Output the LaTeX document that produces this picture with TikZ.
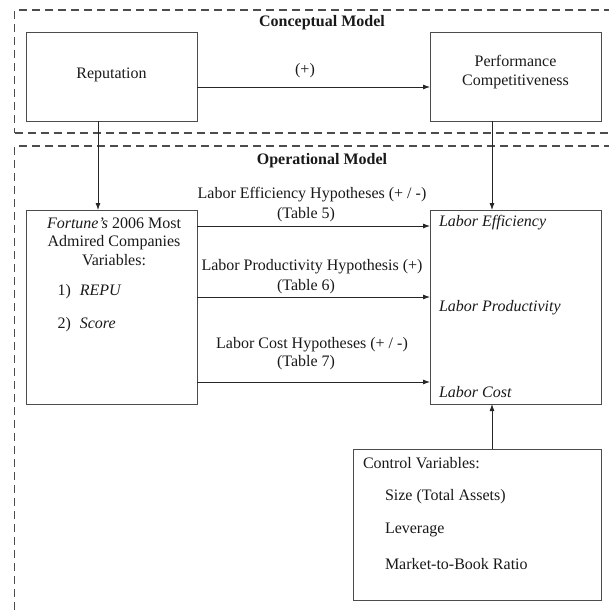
\documentclass[tikz,border=0pt]{standalone}
\usepackage{fontspec}
\setmainfont{Liberation Serif}
\usetikzlibrary{arrows.meta}
\begin{document}
\begin{tikzpicture}[x=1pt,y=-1pt,
  font=\fontsize{16}{18.5}\selectfont,
  every node/.style={inner sep=0pt, outer sep=0pt},
  box/.style={draw=black!70, line width=0.9pt, anchor=north west},
  frame/.style={draw=black!70, line width=1.2pt, dash pattern=on 8pt off 5pt, anchor=north west},
  arr/.style={-{Latex[length=7pt,width=5pt]}, line width=0.8pt, draw=black!85},
  txt/.style={text=black!90},
  lt/.style={txt, anchor=west}]
\useasboundingbox (0,0) rectangle (609,611);
\clip (0,0) rectangle (609,611);
% frames
\node[frame, minimum width=640pt, minimum height=123pt] (concept) at (14.7,10) {};
\node[frame, minimum width=640pt, minimum height=500pt] (oper) at (14.7,146) {};
% boxes
\node[box, minimum width=171pt, minimum height=89pt] (rep) at (26,32) {};
\node[box, minimum width=171pt, minimum height=89pt] (perf) at (430,32) {};
\node[box, minimum width=171pt, minimum height=194pt] (fort) at (26,210) {};
\node[box, minimum width=171pt, minimum height=194pt] (lab) at (430,210) {};
\node[box, minimum width=248pt, minimum height=151pt] (ctrl) at (353,449) {};
% titles
\node[txt, font=\fontsize{16}{18.5}\selectfont\bfseries] (ctitle) at (322,23) {Conceptual Model};
\node[txt, font=\fontsize{16}{18.5}\selectfont\bfseries] (otitle) at (322,161) {Operational Model};
% box texts
\node[txt] (reptxt) at (111.5,75) {Reputation};
\node[txt, align=center] (perftxt) at (515.5,72) {Performance\\Competitiveness};
\node[txt, align=center] (forttxt) at (114,241.5) {\textit{Fortune’s} 2006 Most\\Admired Companies\\Variables:};
\node[lt] (v1) at (57.5,292) {1)\hspace{9pt}\textit{REPU}};
\node[lt] (v2) at (57.5,325) {2)\hspace{9pt}\textit{Score}};
\node[lt] (le) at (439,223) {\textit{Labor Efficiency}};
\node[lt] (lp) at (439,308) {\textit{Labor Productivity}};
\node[lt] (lc) at (439,392) {\textit{Labor Cost}};
\node[lt] (cv) at (363,463) {Control Variables:};
\node[lt] (c1) at (385,497) {Size (Total Assets)};
\node[lt] (c2) at (385,530) {Leverage};
\node[lt] (c3) at (385,564) {Market-to-Book Ratio};
% connector labels
\node[txt] (plus) at (305,71) {(+)};
\node[txt] (h1) at (312,195) {Labor Efficiency Hypotheses (+ / -)};
\node[txt] (t1) at (306,215) {(Table 5)};
\node[txt] (h2) at (312,267) {Labor Productivity Hypothesis (+)};
\node[txt] (t2) at (306,287) {(Table 6)};
\node[txt] (h3) at (312,345) {Labor Cost Hypotheses (+ / -)};
\node[txt] (t3) at (306,363) {(Table 7)};
% connectors
\draw[arr] (rep.east |- 0,87) -- (perf.west |- 0,87);
\draw[arr] (rep.south -| 98,0) -- (fort.north -| 98,0);
\draw[arr] (perf.south -| 492,0) -- (lab.north -| 492,0);
\draw[arr] (fort.east |- 0,226) -- (lab.west |- 0,226);
\draw[arr] (fort.east |- 0,297) -- (lab.west |- 0,297);
\draw[arr] (fort.east |- 0,382) -- (lab.west |- 0,382);
\draw[arr] (ctrl.north -| 492,0) -- (lab.south -| 492,0);
\end{tikzpicture}
\end{document}
